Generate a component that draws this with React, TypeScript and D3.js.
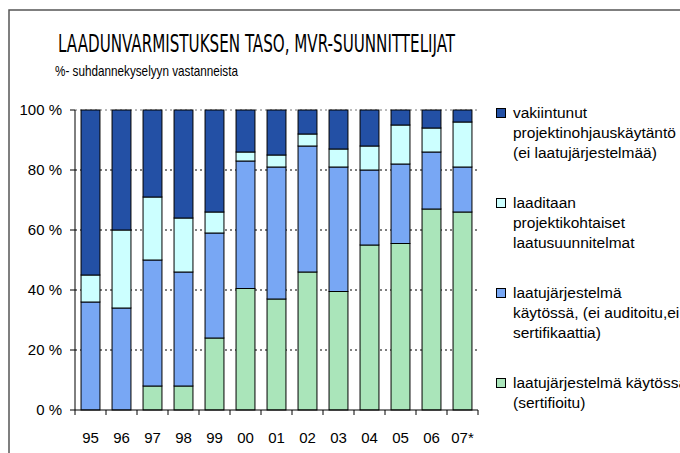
import React from "react";
import * as d3 from "d3";

const years = ["95", "96", "97", "98", "99", "00", "01", "02", "03", "04", "05", "06", "07*"];
const certified = [0, 0, 8, 8, 24, 40.5, 37, 46, 39.5, 55, 55.5, 67, 66];
const systemInUse = [36, 34, 42, 38, 35, 42.5, 44, 42, 41.5, 25, 26.5, 19, 15];
const projectPlans = [9, 26, 21, 18, 7, 3, 4, 4, 6, 8, 13, 8, 15];
const establishedPractice = [55, 40, 29, 36, 34, 14, 15, 8, 13, 12, 5, 6, 4];
const yTicks = [0, 20, 40, 60, 80, 100];

const seriesKeys = ["certified", "systemInUse", "projectPlans", "establishedPractice"];
const colors: Record<string, string> = {
  certified: "#AAE5BA",
  systemInUse: "#78A7F4",
  projectPlans: "#CCFFFF",
  establishedPractice: "#2350A5",
};
const legendItems = [
  { key: "establishedPractice", lines: ["vakiintunut", "projektinohjauskäytäntö", "(ei laatujärjestelmää)"] },
  { key: "projectPlans", lines: ["laaditaan", "projektikohtaiset", "laatusuunnitelmat"] },
  { key: "systemInUse", lines: ["laatujärjestelmä", "käytössä,  (ei auditoitu,ei", "sertifikaattia)"] },
  { key: "certified", lines: ["laatujärjestelmä käytössä", "(sertifioitu)"] },
];

export default function App() {
  const W = 680, H = 453;
  const left = 75, right = 478, top = 110, bottom = 410;
  const table = years.map((y, i) => ({
    year: y,
    certified: certified[i],
    systemInUse: systemInUse[i],
    projectPlans: projectPlans[i],
    establishedPractice: establishedPractice[i],
  }));
  const stack = d3.stack<any>().keys(seriesKeys)(table);
  const x = d3.scaleBand<string>().domain(years).range([left, right]).paddingInner(0.39).paddingOuter(0.195);
  const y = d3.scaleLinear().domain([0, 100]).range([bottom, top]);
  const step = x.step();
  const font = "'Liberation Sans', Arial, sans-serif";

  return (
    <svg width={W} height={H} style={{ position: "absolute", left: 0, top: 0, background: "#fff" }} fontFamily={font}>
      <rect x={9} y={10} width={700} height={500} fill="#fff" stroke="#555" strokeWidth={1.5} />
      <text x={58} y={52} fontSize={24} fontFamily="'Liberation Sans Narrow', 'DejaVu Sans Condensed', sans-serif" textLength={397} lengthAdjust="spacingAndGlyphs" fill="#000">
        LAADUNVARMISTUKSEN TASO, MVR-SUUNNITTELIJAT
      </text>
      <text x={55} y={76} fontSize={14.5} textLength={183} lengthAdjust="spacingAndGlyphs" fill="#000">
        %- suhdannekyselyyn vastanneista
      </text>

      {/* gridlines */}
      {yTicks.filter((t) => t > 0).map((t) => (
        <line key={"g" + t} x1={left} x2={right} y1={y(t)} y2={y(t)} stroke={t === 100 ? "#777" : "#000"} strokeWidth={1} strokeDasharray="2,3" />
      ))}

      {/* bars */}
      {stack.map((s) => (
        <g key={s.key} fill={colors[s.key]}>
          {s.map((d, i) =>
            d[1] - d[0] > 0 ? (
              <rect key={i} x={x(years[i])} width={x.bandwidth()} y={y(d[1])} height={y(d[0]) - y(d[1])} stroke="#000" strokeWidth={1} />
            ) : null
          )}
        </g>
      ))}

      {/* axes */}
      <line x1={left} x2={left} y1={top} y2={bottom} stroke="#000" />
      <line x1={left} x2={right} y1={bottom} y2={bottom} stroke="#000" />
      {yTicks.map((t) => (
        <g key={"yt" + t}>
          <line x1={left - 5} x2={left} y1={y(t)} y2={y(t)} stroke="#000" />
          <text x={62} y={y(t) + 5} fontSize={15} textAnchor="end" fill="#000">{t} %</text>
        </g>
      ))}
      {d3.range(years.length + 1).map((i) => (
        <line key={"xt" + i} x1={left + i * step} x2={left + i * step} y1={bottom} y2={bottom + 5} stroke="#000" />
      ))}
      {years.map((yr) => (
        <text key={"xl" + yr} x={(x(yr) as number) + x.bandwidth() / 2} y={443} fontSize={15} textAnchor="middle" fill="#000">{yr}</text>
      ))}

      {/* legend */}
      {legendItems.map((it, k) => (
        <g key={it.key} transform={`translate(0, ${k * 90})`}>
          <rect x={496.5} y={108.5} width={9} height={9} fill={colors[it.key]} stroke="#000" strokeWidth={1} />
          {it.lines.map((ln, j) => (
            <text key={j} x={513} y={118 + j * 20} fontSize={15.5} fill="#000">{ln}</text>
          ))}
        </g>
      ))}
    </svg>
  );
}
